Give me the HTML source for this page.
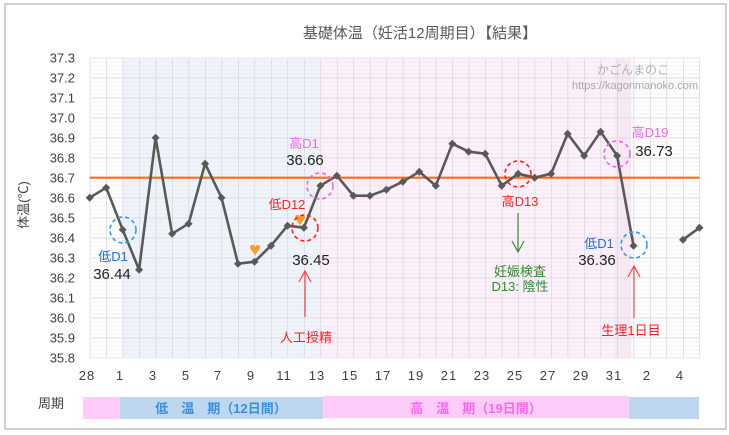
<!DOCTYPE html>
<html><head><meta charset="utf-8"><style>
html,body{margin:0;padding:0;background:#fff}
svg{display:block;font-family:"Liberation Sans","Noto Sans CJK JP",sans-serif}
</style></head><body>
<svg width="729" height="435" viewBox="0 0 729 435" xmlns="http://www.w3.org/2000/svg">
<defs>
<pattern id="hmin" x="0" y="1.7" width="10" height="4" patternUnits="userSpaceOnUse"><line x1="0" y1="0" x2="10" y2="0" stroke="#e9e9ee" stroke-width="1"/></pattern>
<pattern id="hmaj" x="0" y="17.7" width="10" height="20" patternUnits="userSpaceOnUse"><line x1="0" y1="0" x2="10" y2="0" stroke="#d0d0d6" stroke-width="1.2"/></pattern>
<pattern id="vg" x="89.7" y="0" width="16.48" height="10" patternUnits="userSpaceOnUse"><line x1="0" y1="0" x2="0" y2="10" stroke="#d0d0d6" stroke-width="1.2"/></pattern>
<marker id="dm" markerWidth="10" markerHeight="10" refX="5" refY="5" markerUnits="userSpaceOnUse"><path d="M5 1L9 5L5 9L1 5Z" fill="#595959"/></marker>
</defs>
<rect x="5" y="4" width="721" height="425" fill="#fff" stroke="#a0a0a0" stroke-width="1"/>
<text x="420" y="38" font-size="15" fill="#595959" text-anchor="middle">基礎体温（妊活12周期目）【結果】</text>
<rect x="122.7" y="58.7" width="196" height="299" fill="#eef4fa"/>
<rect x="318.7" y="58.7" width="296" height="299" fill="#fdf0fb"/>
<rect x="614.7" y="58.7" width="16.5" height="299" fill="#f8e8f4"/>
<rect x="89.7" y="58.7" width="609.8" height="299" fill="url(#hmin)"/>
<rect x="89.7" y="57.2" width="609.8" height="301" fill="url(#hmaj)"/>
<rect x="89.2" y="58.7" width="611" height="299" fill="url(#vg)"/>
<text x="633" y="74" font-size="12" fill="#b0b0b0" text-anchor="middle">かごんまのこ</text>
<text x="698" y="89" font-size="11" fill="#a8a8a8" text-anchor="end">https://kagonmanoko.com</text>
<line x1="89.7" y1="177.7" x2="699.5" y2="177.7" stroke="#ff6a13" stroke-width="2.2"/>
<polyline fill="none" stroke="#595959" stroke-width="2.6" stroke-linejoin="round" marker-start="url(#dm)" marker-mid="url(#dm)" marker-end="url(#dm)" points="89.7,197.7 106.2,187.7 122.7,229.7 139.1,269.7 155.6,137.7 172.1,233.7 188.6,223.7 205.1,163.7 221.5,197.7 238.0,263.7 254.5,261.7 271.0,245.7 287.5,225.7 303.9,227.7 320.4,185.7 336.9,175.7 353.4,195.7 369.9,195.7 386.3,189.7 402.8,181.7 419.3,171.7 435.8,185.7 452.3,143.7 468.7,151.7 485.2,153.7 501.7,185.7 518.2,173.7 534.7,177.7 551.1,173.7 567.6,133.7 584.1,155.7 600.6,131.7 617.1,155.7 633.5,245.7"/>
<polyline fill="none" stroke="#595959" stroke-width="2.6" marker-start="url(#dm)" marker-end="url(#dm)" points="683.0,239.7 699.5,227.7"/>
<text x="255" y="256" font-size="20" fill="#ff9a2e" text-anchor="middle">♥</text>
<text x="300" y="226" font-size="20" fill="#ff9a2e" text-anchor="middle">♥</text>
<g fill="none" stroke-width="1.6" stroke-dasharray="4,3">
<circle cx="123" cy="230" r="13" stroke="#3399ff"/>
<circle cx="305" cy="228" r="13" stroke="#ff2020"/>
<circle cx="320" cy="186" r="13" stroke="#ee66ee"/>
<circle cx="518" cy="174" r="13" stroke="#ff2020"/>
<circle cx="617" cy="154" r="13" stroke="#ee66ee"/>
<circle cx="634" cy="245" r="13" stroke="#3399ff"/>
</g>
<g font-size="13" text-anchor="middle">
<text x="113" y="261" fill="#1f6fd0">低D1</text>
<text x="287" y="209" fill="#ff2020">低D12</text>
<text x="304" y="148" fill="#ee66ee">高D1</text>
<text x="520" y="206" fill="#ff2020">高D13</text>
<text x="650" y="137" fill="#ee66ee">高D19</text>
<text x="599" y="248" fill="#1f6fd0">低D1</text>
<text x="306" y="342" fill="#ff2020">人工授精</text>
<text x="631" y="335" fill="#ff2020">生理1日目</text>
<text x="520" y="276" fill="#2e8b2e">妊娠検査</text>
<text x="520" y="291" fill="#2e8b2e">D13: 陰性</text>
</g>
<g font-size="15" text-anchor="middle" fill="#222">
<text x="112" y="279">36.44</text>
<text x="311" y="265">36.45</text>
<text x="305" y="165">36.66</text>
<text x="654" y="156">36.73</text>
<text x="597" y="265">36.36</text>
</g>
<g fill="none" stroke-width="1.2">
<path d="M305 317 V271 M299 282 L305 271 L311 282" stroke="#ff4040"/>
<path d="M634 318 V266 M628 277 L634 266 L640 277" stroke="#ff4040"/>
<path d="M518 213 V252 M512 241 L518 252 L524 241" stroke="#3a8a3a"/>
</g>
<text x="28" y="205" font-size="13" fill="#404040" text-anchor="middle" transform="rotate(-90 28 205)">体温(℃)</text>
<g font-size="13" fill="#404040" text-anchor="end">
<text x="75" y="362.7">35.8</text><text x="75" y="342.7">35.9</text><text x="75" y="322.7">36.0</text>
<text x="75" y="302.7">36.1</text><text x="75" y="282.7">36.2</text><text x="75" y="262.7">36.3</text>
<text x="75" y="242.7">36.4</text><text x="75" y="222.7">36.5</text><text x="75" y="202.7">36.6</text>
<text x="75" y="182.7">36.7</text><text x="75" y="162.7">36.8</text><text x="75" y="142.7">36.9</text>
<text x="75" y="122.7">37.0</text><text x="75" y="102.7">37.1</text><text x="75" y="82.7">37.2</text>
<text x="75" y="62.7">37.3</text>
</g>
<g font-size="13" fill="#404040" text-anchor="middle" letter-spacing="1">
<text x="87" y="380">28</text><text x="120" y="380">1</text><text x="153" y="380">3</text>
<text x="186" y="380">5</text><text x="218" y="380">7</text><text x="251" y="380">9</text>
<text x="284" y="380">11</text><text x="317" y="380">13</text><text x="350" y="380">15</text>
<text x="383" y="380">17</text><text x="416" y="380">19</text><text x="449" y="380">21</text>
<text x="482" y="380">23</text><text x="515" y="380">25</text><text x="548" y="380">27</text>
<text x="581" y="380">29</text><text x="614" y="380">31</text><text x="647" y="380">2</text>
<text x="680" y="380">4</text>
</g>
<rect x="83" y="397" width="37" height="22" fill="#ffccfa"/>
<rect x="120" y="397" width="203" height="22" fill="#bcd7ee"/>
<rect x="323" y="396" width="306" height="22" fill="#ffccfa"/>
<rect x="629" y="397" width="70" height="22" fill="#bcd7ee"/>
<text x="221" y="413" font-size="13" font-weight="bold" fill="#3a8ee6" text-anchor="middle">低　温　期（12日間）</text>
<text x="476" y="413" font-size="13" font-weight="bold" fill="#ff66ee" text-anchor="middle">高　温　期（19日間）</text>
<text x="51" y="408" font-size="13" fill="#404040" text-anchor="middle">周期</text>
</svg>
</body></html>
